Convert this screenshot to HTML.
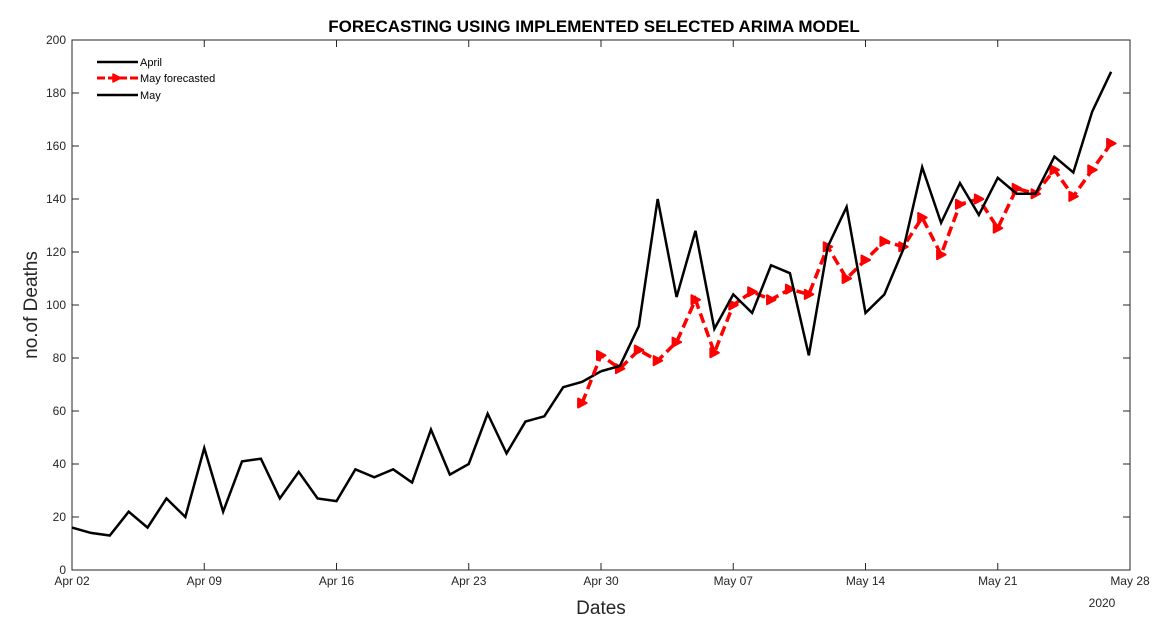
<!DOCTYPE html>
<html><head><meta charset="utf-8"><style>
body{margin:0;background:#fff;font-family:"Liberation Sans",Arial,sans-serif}
svg text{font-family:"Liberation Sans",Arial,sans-serif}
</style></head><body>
<svg id="chart" width="1168" height="624" xmlns="http://www.w3.org/2000/svg">
<rect width="1168" height="624" fill="#fff"/>
<text x="594" y="32" text-anchor="middle" font-size="17" font-weight="bold">FORECASTING USING IMPLEMENTED SELECTED ARIMA MODEL</text>
<g id="axes"></g>
<g id="marks"></g>
<text x="601" y="614" text-anchor="middle" font-size="19" fill="#262626">Dates</text>
<text transform="translate(37,305) rotate(-90)" text-anchor="middle" font-size="19" fill="#262626">no.of Deaths</text>
<text x="1102" y="607" text-anchor="middle" font-size="12" fill="#262626">2020</text>
<g>
<line x1="97" y1="62" x2="138" y2="62" stroke="#000" stroke-width="2.5"/>
<text x="140" y="66" font-size="11">April</text>
<line x1="97" y1="78" x2="138" y2="78" stroke="#f00" stroke-width="3" stroke-dasharray="8,3"/>
<path d="M113,74 L121,78 L113,82 Z" fill="#f00" stroke="#f00" stroke-width="1.5" stroke-linejoin="round"/>
<text x="140" y="82" font-size="11">May forecasted</text>
<line x1="97" y1="95" x2="138" y2="95" stroke="#000" stroke-width="2.5"/>
<text x="140" y="99" font-size="11">May</text>
</g>
</svg>
<script>
const xTickLabels=["Apr 02","Apr 09","Apr 16","Apr 23","Apr 30","May 07","May 14","May 21","May 28"];
const yTicks=[0,20,40,60,80,100,120,140,160,180,200];
const actualValues=[16,14,13,22,16,27,20,46,22,41,42,27,37,27,26,38,35,38,33,53,36,40,59,44,56,58,69,71,75,77,92,140,103,128,91,104,97,115,112,81,122,137,97,104,121,152,131,146,134,148,142,142,156,150,173,188];
const aprilEnd=28;
const forecastStart=27;
const forecastValues=[63,81,76,83,79,86,102,82,100,105,102,106,104,122,110,117,124,122,133,119,138,140,129,144,142,151,141,151,161];
const L=72,R=1130,T=40,B=570,NDAYS=56;
const xs=d=>L+(R-L)*d/NDAYS;
const ys=v=>B-(B-T)*v/200;
const NS="http://www.w3.org/2000/svg";
function mk(tag,attrs,parent){const e=document.createElementNS(NS,tag);for(const k in attrs)e.setAttribute(k,attrs[k]);parent.appendChild(e);return e;}
const ax=document.getElementById('axes'),mg=document.getElementById('marks');
const box=mk('rect',{x:L,y:T,width:R-L,height:B-T,fill:'none',stroke:'#262626','stroke-width':1},ax);


yTicks.forEach(v=>{const y=ys(v);
mk('line',{x1:L,y1:y,x2:L+7,y2:y,stroke:'#262626'},ax);
mk('line',{x1:R,y1:y,x2:R-7,y2:y,stroke:'#262626'},ax);
const t=mk('text',{x:L-6,y:y+4,'text-anchor':'end','font-size':12,fill:'#262626'},ax);t.textContent=v;

});
xTickLabels.forEach((s,i)=>{const x=xs(i*7);
mk('line',{x1:x,y1:B,x2:x,y2:B-7,stroke:'#262626'},ax);
mk('line',{x1:x,y1:T,x2:x,y2:T+7,stroke:'#262626'},ax);
const t=mk('text',{x:x,y:B+15,'text-anchor':'middle','font-size':12,fill:'#262626'},ax);t.textContent=s;

});
function pts(arr,off){return arr.map((v,i)=>xs(i+off)+','+ys(v)).join(' ');}
const ap=mk('polyline',{points:pts(actualValues.slice(0,aprilEnd+1),0),fill:'none',stroke:'#000','stroke-width':2.5,'stroke-linejoin':'miter'},mg);


const fp=mk('polyline',{points:pts(forecastValues,forecastStart),fill:'none',stroke:'#f00','stroke-width':3.5,'stroke-dasharray':'10,5'},mg);


forecastValues.forEach((v,i)=>{const x=xs(i+forecastStart),y=ys(v);
const m=mk('path',{d:`M${x-4},${y-4.5} L${x+4.5},${y} L${x-4},${y+4.5} Z`,fill:'#f00',stroke:'#f00','stroke-width':2,'stroke-linejoin':'round'},mg);

});
const mp=mk('polyline',{points:pts(actualValues.slice(aprilEnd),aprilEnd),fill:'none',stroke:'#000','stroke-width':2.5},mg);


</script>
</body></html>
